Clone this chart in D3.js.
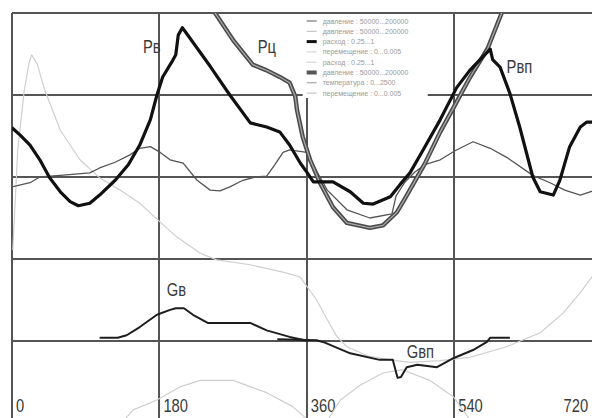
<!DOCTYPE html>
<html>
<head>
<meta charset="utf-8">
<script src="https://cdn.jsdelivr.net/npm/d3@7"></script>
<style>
  body { margin: 0; background: #fff; }
  .grid { stroke: #555; stroke-width: 2; shape-rendering: crispEdges; }
  .tick-label, .name {
    font-family: "Liberation Sans", Arial, sans-serif;
    font-size: 18px; fill: #3a3a3a;
  }
  .legend text { font-family: "Liberation Sans", Arial, sans-serif; font-size: 7px; fill: #9a9a9a; }
</style>
</head>
<body>
<div id="chart"></div>
<script>
var svgWidth = 592, svgHeight = 418;
var margin = {top: 13, left: 12};
var width = 589.6;          // 0..720 deg
var height = 410;           // 5 divisions

// crank angle ticks and grid divisions
var xTicks = [0, 180, 360, 540, 720];
var yGrid = [1, 2, 3, 4, 5];

// series: [angle, divisions]
var pV = [[0,3.60],[10,3.51],[22,3.39],[34,3.21],[46,2.99],[59,2.82],[71,2.70],[81,2.65],[95,2.68],
  [107,2.78],[126,2.96],[142,3.15],[156,3.39],[169,3.70],[177,4.00],[184,4.22],[195,4.40],[200,4.49],
  [203,4.73],[208,4.82],[211,4.78],[242,4.35],[266,4.00],[291,3.66],[311,3.61],[327,3.55],[339,3.39],
  [352,3.17],[360,3.06],[368,2.94],[392,2.94],[413,2.82],[429,2.68],[441,2.67],[462,2.76],[474,2.91],
  [486,3.05],[502,3.33],[523,3.70],[543,4.09],[559,4.30],[584,4.56],[587,4.43],[596,4.34],[608,4.02],
  [620,3.61],[636,3.00],[645,2.82],[661,2.78],[669,2.96],[681,3.37],[694,3.61],[702,3.67],[718,3.67]];

var pC = [[239,5.16],[248,5.00],[270,4.67],[294,4.37],[311,4.30],[327,4.22],[339,4.15],[346,3.98],
  [348,3.82],[355,3.49],[364,3.21],[376,2.93],[392,2.63],[409,2.44],[437,2.38],[453,2.41],[470,2.57],
  [480,2.74],[492,2.95],[504,3.16],[523,3.55],[541,3.88],[559,4.21],[581,4.57],[598,5.00],[605,5.16]];

var tW = [[0,2.88],[22,2.93],[34,3.00],[59,3.02],[95,3.05],[107,3.11],[126,3.18],[144,3.27],[156,3.35],
  [169,3.37],[181,3.30],[193,3.21],[209,3.17],[226,2.96],[242,2.84],[254,2.83],[266,2.88],[282,2.96],
  [297,3.00],[311,3.01],[321,3.15],[331,3.30],[339,3.33],[360,3.30],[366,3.18],[385,2.84],[409,2.60],
  [437,2.50],[464,2.55],[469,2.77],[480,2.94],[492,3.06],[504,3.15],[523,3.21],[541,3.32],[563,3.43],
  [584,3.35],[604,3.24],[636,3.02],[657,2.93],[675,2.84],[694,2.78],[706,2.82],[718,2.84]];

var sL1 = [[1,2.11],[7,3.33],[15,4.06],[21,4.40],[24,4.49],[31,4.37],[40,4.06],[59,3.57],[83,3.21],
  [107,2.99],[132,2.84],[156,2.68],[181,2.45],[201,2.27],[230,2.07],[250,1.99],[291,1.93],[331,1.84],
  [352,1.78],[372,1.50],[385,1.26],[397,1.05],[409,0.93],[434,0.82],[462,0.77],[486,0.74],[523,0.76],
  [559,0.80],[604,0.93],[645,1.10],[673,1.34],[694,1.59],[708,1.78],[718,1.93]];

var sL2 = [[126,-0.09],[148,0.16],[177,0.28],[205,0.44],[230,0.52],[270,0.52],[311,0.37],[343,0.20],
  [364,0.01],[382,-0.02],[401,0.28],[425,0.46],[453,0.61],[477,0.65],[510,0.52],[539,0.32],[559,0.04],
  [572,-0.09]];

var gV = [[107,1.04],[129,1.04],[140,1.07],[156,1.17],[177,1.32],[193,1.38],[200,1.40],[210,1.40],
  [221,1.32],[239,1.22],[291,1.22],[311,1.13],[339,1.05],[362,1.00]];

var gVP = [[324,1.02],[372,1.01],[382,0.98],[413,0.85],[449,0.77],[465,0.77],[469,0.62],[471,0.55],
  [475,0.56],[482,0.68],[495,0.71],[519,0.68],[539,0.79],[563,0.89],[580,0.99],[584,1.04],[608,1.04]];

// curve names: [text, angle, divisions]
var names = [["Рв",160,4.51],["Рц",300,4.51],["Рвп",604,4.27],["Gв",189,1.55],["Gвп",482,0.79]];

var legendNames = ["давление : 50000...200000", "давление : 50000...200000", "расход : 0.25...1",
  "перемещение : 0...0.005", "расход : 0.25...1", "давление : 50000...200000",
  "температура : 0...2500", "перемещение : 0...0.005"];
var legendStroke = ["#777", "#bbb", "#111", "#ccc", "#ccc", "#555", "#999", "#bbb"];
var legendWidth = [1.2, 1, 3, 1, 1, 4, 1, 1];

var svg = d3.select("#chart")
  .append("svg")
  .attr("width", svgWidth)
  .attr("height", svgHeight);

var x = d3.scaleLinear().domain([0, 720]).range([0, width]);
var y = d3.scaleLinear().domain([0, 5]).range([height, 0]);

var g = svg.append("g")
  .attr("transform", "translate(" + margin.left + "," + margin.top + ")");

svg.append("clipPath").attr("id", "plot")
  .append("rect").attr("width", width).attr("height", height);

// horizontal grid (top one is the frame)
g.selectAll(".hgrid")
  .data(yGrid)
  .enter().append("line")
  .attr("class", "grid")
  .attr("x1", 0).attr("x2", width)
  .attr("y1", function(d) { return y(d); })
  .attr("y2", function(d) { return y(d); });

// legend background sits over the horizontal grid
var lg = svg.append("g")
  .attr("class", "legend")
  .attr("transform", "translate(" + (margin.left + x(355)) + "," + (margin.top + 1) + ")");
lg.append("rect")
  .attr("width", 125).attr("height", 84)
  .attr("fill", "#fff");

g.selectAll(".vgrid")
  .data(xTicks)
  .enter().append("line")
  .attr("class", "grid")
  .attr("x1", function(d) { return x(d); })
  .attr("x2", function(d) { return x(d); })
  .attr("y1", 0).attr("y2", svgHeight);

// narrow-looking labels: squeeze horizontally
g.selectAll(".tick-label")
  .data(xTicks)
  .enter().append("text")
  .attr("class", "tick-label")
  .attr("transform", function(d) {
    return "translate(" + Math.min(x(d) + 4, width - 38) + ",399) scale(0.82,1)";
  })
  .text(function(d) { return d; });

var line = d3.line()
  .x(function(d) { return x(d[0]); })
  .y(function(d) { return y(d[1]); });

var lines = g.append("g").attr("clip-path", "url(#plot)");

function addLine(data, color, w) {
  return lines.append("path")
    .datum(data)
    .attr("d", line)
    .attr("fill", "none")
    .attr("stroke", color)
    .attr("stroke-width", w)
    .attr("stroke-linejoin", "round");
}

addLine(sL1, "#cfcfcf", 1.2);
addLine(sL2, "#cfcfcf", 1.2);
addLine(tW, "#555", 1.3);
addLine(pC, "#4a4a4a", 4.4);
addLine(pC, "#a8a8a8", 1.3);
addLine(pV, "#111", 3.2);
addLine(gV, "#1e1e1e", 2);
addLine(gVP, "#1e1e1e", 2);

g.selectAll(".name")
  .data(names)
  .enter().append("text")
  .attr("class", "name")
  .attr("transform", function(d) {
    return "translate(" + x(d[1]) + "," + y(d[2]) + ") scale(0.82,1)";
  })
  .text(function(d) { return d[0]; });

// legend rows
var row = lg.selectAll(".row")
  .data(legendNames)
  .enter().append("g")
  .attr("transform", function(d, i) { return "translate(0," + (7 + i * 10.3) + ")"; });

row.append("line")
  .attr("x1", 4).attr("x2", 14)
  .attr("stroke", function(d, i) { return legendStroke[i]; })
  .attr("stroke-width", function(d, i) { return legendWidth[i]; });

row.append("text")
  .attr("x", 20)
  .attr("y", 2.5)
  .text(function(d) { return d; });
</script>
</body>
</html>
